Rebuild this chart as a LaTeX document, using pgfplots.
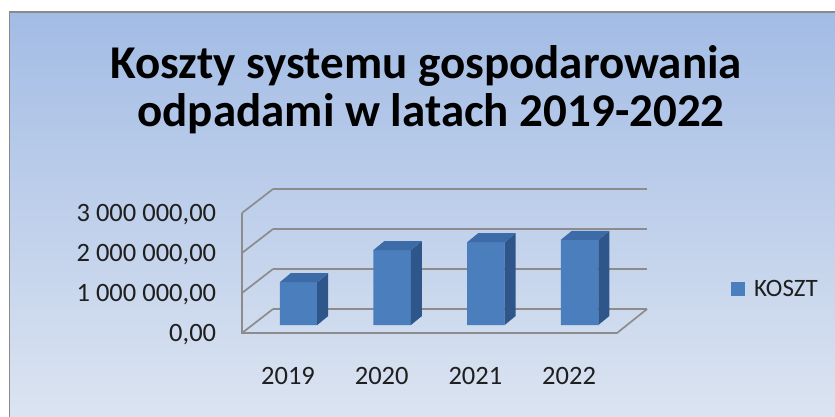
\documentclass[border=0pt]{standalone}
\usepackage{fontspec}
\setmainfont{Carlito}
\usepackage{pgfplots}
\pgfplotsset{compat=1.18}
\usepackage{pgfplotstable}
\definecolor{barfront}{HTML}{4A7EBD}
\definecolor{barside}{HTML}{2F568A}
\definecolor{bartop}{HTML}{3D6BA8}
\definecolor{gridgray}{HTML}{8C8C8C}
\definecolor{bgtop}{HTML}{A3BCE5}
\definecolor{bgbot}{HTML}{DDE5F1}
\definecolor{framegray}{HTML}{8A8A8A}

\pgfplotstableread{
x year koszt
0 2019 1070000
1 2020 1875000
2 2021 2070000
3 2022 2130000
}\koszty

\begin{document}
\begin{tikzpicture}[x=1bp,y=1bp]
\useasboundingbox (0,0) rectangle (835,-416);
\clip (0,0) rectangle (835,-416);
\fill[white] (0,0) rectangle (835,-416);
\shade[top color=bgtop, bottom color=bgbot] (9.5,-12) rectangle (850,-430);
\draw[line width=1.6bp, draw=framegray] (850,-12) -- (9.5,-12) -- (9.5,-430);
\node[anchor=base, inner sep=0pt, font=\fontsize{47bp}{56bp}\selectfont\bfseries] at (426,-78) {Koszty systemu gospodarowania};
\node[anchor=base, inner sep=0pt, font=\fontsize{47bp}{56bp}\selectfont\bfseries] at (431,-126) {odpadami w latach 2019-2022};

\begin{axis}[
  at={(204.8bp,-365bp)}, anchor=south west,
  scale only axis, width=468.5bp, height=200bp,
  xmin=-1, xmax=4, ymin=-1000000, ymax=4000000,
  clip=false,
  axis line style={draw=none}, tick style={draw=none}, major tick length=0pt,
  xtick={0,1,2,3}, xticklabels={2019,2020,2021,2022},
  ytick={0,1000000,2000000,3000000},
  yticklabels={{0,00},{1 000 000,00},{2 000 000,00},{3 000 000,00}},
  scaled y ticks=false,
  tick label style={font=\fontsize{26.5bp}{31bp}\selectfont, text=black!88},
  yticklabel style={anchor=east, inner sep=0pt, xshift=11.5bp, yshift=-9.5bp},
  xticklabel style={anchor=center, inner sep=0pt, xshift=-10.5bp, yshift=-10.5bp},
  legend style={at={(1.123,0.38)}, anchor=west, draw=none, fill=none, inner sep=0pt,
    font=\fontsize{25bp}{30bp}\selectfont, text=black!88,
    nodes={inner sep=0pt},
    /tikz/every odd column/.append style={column sep=9bp}},
  legend image code/.code={\fill[barfront] (0bp,-7bp) rectangle (14bp,7bp);},
]
% walls and floor
\draw[gridgray, line width=1.7bp] (axis cs:-0.272,400000) -- (axis cs:3.72,400000);
\draw[gridgray, line width=1.7bp] (axis cs:-0.272,1400000) -- (axis cs:3.72,1400000);
\draw[gridgray, line width=1.7bp] (axis cs:-0.272,2400000) -- (axis cs:3.72,2400000);
\draw[gridgray, line width=1.7bp] (axis cs:-0.272,3400000) -- (axis cs:3.72,3400000);
\draw[gridgray, line width=1.7bp] (axis cs:-0.603,-200000) -- (axis cs:-0.272,400000);
\draw[gridgray, line width=1.7bp] (axis cs:-0.603,800000) -- (axis cs:-0.272,1400000);
\draw[gridgray, line width=1.7bp] (axis cs:-0.603,1800000) -- (axis cs:-0.272,2400000);
\draw[gridgray, line width=1.7bp] (axis cs:-0.603,2800000) -- (axis cs:-0.272,3400000);
\draw[gridgray, line width=1.7bp] (axis cs:-0.603,2800000) -- (axis cs:-0.603,-200000) -- (axis cs:3.399,-200000) -- (axis cs:3.72,400000);

% bars: front faces
\addplot[ybar, bar width=37.5bp, fill=barfront, draw=none] table[x=x, y=koszt] {\koszty};
\addlegendentry{KOSZT}
% side faces
\addplot[fill=barside, draw=none, forget plot] coordinates {(0.2,0) (0.317,225000) (0.317,1295000) (0.2,1070000)} -- cycle;
\addplot[fill=barside, draw=none, forget plot] coordinates {(1.2,0) (1.317,225000) (1.317,2100000) (1.2,1875000)} -- cycle;
\addplot[fill=barside, draw=none, forget plot] coordinates {(2.2,0) (2.317,225000) (2.317,2295000) (2.2,2070000)} -- cycle;
\addplot[fill=barside, draw=none, forget plot] coordinates {(3.2,0) (3.317,225000) (3.317,2355000) (3.2,2130000)} -- cycle;
% top faces
\addplot[fill=bartop, draw=none, forget plot] coordinates {(-0.2,1070000) (0.2,1070000) (0.317,1295000) (-0.083,1295000)} -- cycle;
\addplot[fill=bartop, draw=none, forget plot] coordinates {(0.8,1875000) (1.2,1875000) (1.317,2100000) (0.917,2100000)} -- cycle;
\addplot[fill=bartop, draw=none, forget plot] coordinates {(1.8,2070000) (2.2,2070000) (2.317,2295000) (1.917,2295000)} -- cycle;
\addplot[fill=bartop, draw=none, forget plot] coordinates {(2.8,2130000) (3.2,2130000) (3.317,2355000) (2.917,2355000)} -- cycle;
\end{axis}
\end{tikzpicture}
\end{document}
